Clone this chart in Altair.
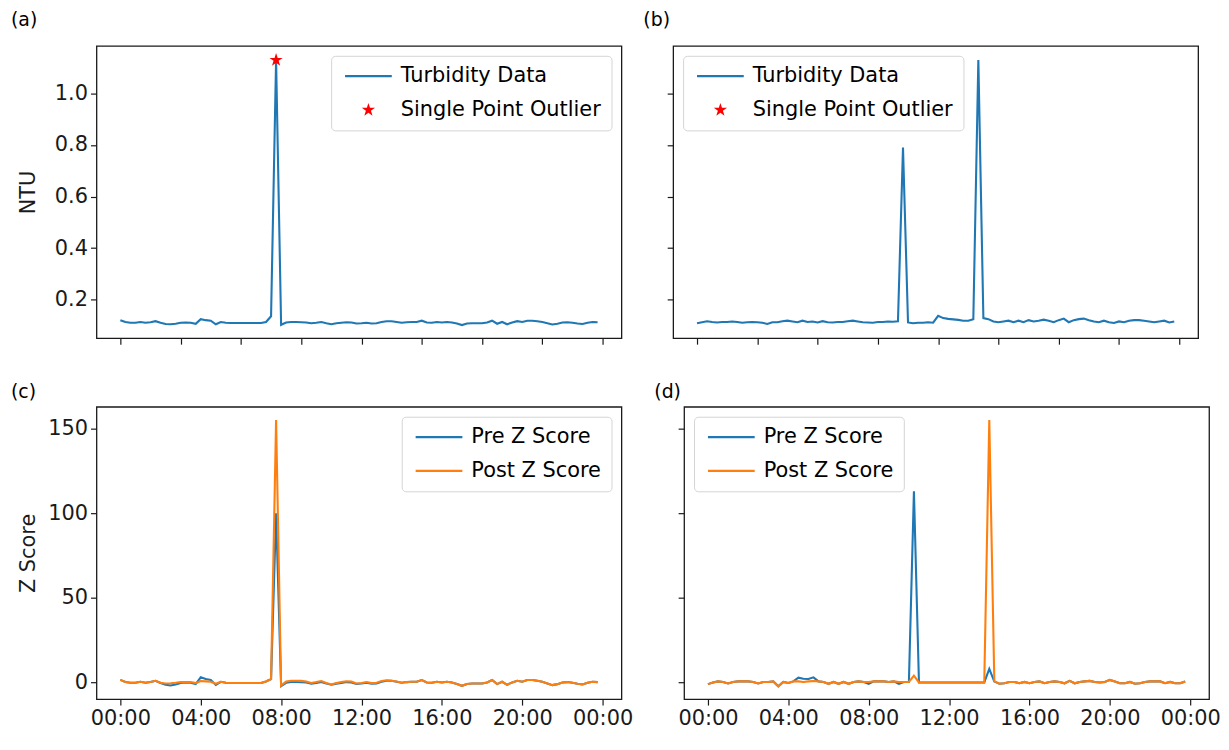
import math
import altair as alt
import pandas as pd

FONT = "DejaVu Sans"
BLUE = "#1f77b4"
ORANGE = "#ff7f0e"
RED = "#ff0000"

# ---------------- data ----------------
STEP_HOURS = 0.25          # 15-minute samples
N_SAMPLES = 96
HOURS = [i * STEP_HOURS for i in range(N_SAMPLES)]

A_NTU = [0.120, 0.113, 0.110, 0.110, 0.113, 0.110, 0.112, 0.116,
         0.110, 0.105, 0.104, 0.106, 0.110, 0.111, 0.110, 0.106,
         0.124, 0.120, 0.118, 0.104, 0.113, 0.110, 0.109, 0.109,
         0.109, 0.109, 0.109, 0.109, 0.109, 0.113, 0.135, 1.130,
         0.102, 0.111, 0.113, 0.113, 0.112, 0.111, 0.108, 0.110,
         0.113, 0.108, 0.104, 0.108, 0.110, 0.112, 0.111, 0.107,
         0.108, 0.110, 0.107, 0.108, 0.113, 0.116, 0.116, 0.113,
         0.110, 0.112, 0.113, 0.113, 0.118, 0.111, 0.110, 0.113,
         0.111, 0.113, 0.111, 0.107, 0.101, 0.107, 0.108, 0.108,
         0.108, 0.111, 0.118, 0.106, 0.113, 0.104, 0.111, 0.116,
         0.113, 0.118, 0.118, 0.116, 0.113, 0.108, 0.103, 0.106,
         0.111, 0.112, 0.110, 0.107, 0.105, 0.110, 0.113, 0.112]

B_NTU = [0.108, 0.112, 0.116, 0.113, 0.111, 0.113, 0.113, 0.115,
         0.113, 0.110, 0.112, 0.113, 0.112, 0.110, 0.105, 0.112,
         0.112, 0.116, 0.118, 0.115, 0.112, 0.118, 0.113, 0.115,
         0.111, 0.116, 0.112, 0.111, 0.113, 0.113, 0.116, 0.118,
         0.115, 0.112, 0.111, 0.110, 0.113, 0.113, 0.115, 0.114,
         0.116, 0.790, 0.111, 0.108, 0.110, 0.110, 0.112, 0.110,
         0.137, 0.128, 0.125, 0.123, 0.121, 0.118, 0.118, 0.124,
         1.130, 0.128, 0.124, 0.115, 0.112, 0.115, 0.118, 0.112,
         0.118, 0.112, 0.120, 0.115, 0.118, 0.122, 0.118, 0.112,
         0.120, 0.126, 0.112, 0.120, 0.124, 0.126, 0.120, 0.115,
         0.112, 0.118, 0.112, 0.109, 0.115, 0.112, 0.118, 0.120,
         0.120, 0.118, 0.115, 0.112, 0.115, 0.118, 0.111, 0.115]

A_OUTLIER_HOUR = [7.75]
A_OUTLIER_NTU = [1.130]

C_PRE = [1.5, 0.3, -0.2, -0.2, 0.4, -0.2, 0.2, 1.0,
         -0.3, -1.4, -1.8, -1.2, -0.3, 0.0, -0.2, -1.0,
         3.0, 2.0, 1.5, -1.5, 0.4, -0.2, -0.3, -0.3,
         -0.3, -0.3, -0.3, -0.3, -0.3, 0.6, 2.0, 100.0,
         -2.2, -0.2, 0.3, 0.3, 0.2, 0.0, -0.7, -0.3,
         0.3, -0.7, -1.4, -0.7, -0.3, 0.2, 0.0, -0.9,
         -0.6, -0.2, -0.8, -0.6, 0.4, 1.0, 1.0, 0.4,
         -0.2, 0.2, 0.4, 0.4, 1.4, 0.0, -0.2, 0.4,
         0.0, 0.4, 0.0, -0.9, -2.0, -0.9, -0.6, -0.6,
         -0.6, 0.0, 1.4, -1.0, 0.4, -1.4, 0.0, 1.0,
         0.4, 1.4, 1.4, 1.0, 0.4, -0.6, -1.6, -1.0,
         0.0, 0.2, -0.2, -0.8, -1.2, -0.2, 0.4, 0.2]

C_POST = [1.5, 0.3, -0.2, -0.2, 0.4, -0.2, 0.2, 1.0,
          -0.2, -0.6, -0.5, -0.2, 0.2, 0.3, 0.2, -0.4,
          0.8, 0.6, 0.4, -0.8, 0.4, -0.2, -0.3, -0.3,
          -0.3, -0.3, -0.3, -0.3, -0.3, 0.6, 2.0, 155.0,
          -1.8, 0.5, 1.0, 1.0, 0.9, 0.6, -0.3, 0.2,
          0.8, -0.3, -1.2, -0.4, 0.2, 0.7, 0.5, -0.6,
          -0.3, 0.2, -0.4, -0.2, 0.8, 1.3, 1.0, 0.5,
          -0.2, 0.2, 0.4, 0.4, 1.4, 0.0, -0.2, 0.4,
          0.0, 0.4, 0.0, -0.9, -2.0, -0.9, -0.6, -0.6,
          -0.6, 0.0, 1.4, -1.0, 0.4, -1.4, 0.0, 1.0,
          0.4, 1.4, 1.4, 1.0, 0.4, -0.6, -1.6, -1.0,
          0.0, 0.2, -0.2, -0.8, -1.2, -0.2, 0.4, 0.2]

D_PRE = [-1.0, 0.0, 0.6, 0.3, -0.6, 0.3, 0.6, 0.6,
         0.6, 0.3, -0.6, 0.3, 0.3, 0.6, -2.3, 0.3,
         -0.3, 0.6, 2.8, 2.2, 2.0, 3.0, 0.6, 0.3,
         -0.8, 0.3, -0.8, 0.3, -0.8, 0.3, 0.6, 0.3,
         -0.8, 0.6, 0.6, 0.6, 0.3, 0.6, -0.8, 0.3,
         0.3, 113.0, 0.0, 0.0, 0.0, 0.0, 0.0, 0.0,
         0.0, 0.0, 0.0, 0.0, 0.0, 0.0, 0.0, 0.0,
         8.0, 0.5, -0.8, -0.5, 0.3, 0.3, -0.5, 0.3,
         -0.5, 0.3, 0.6, -0.5, 0.3, 0.6, 0.3, -0.5,
         0.9, -0.5, 0.3, 0.6, 0.9, 0.3, 0.0, 0.3,
         1.5, 0.6, -0.5, -0.5, 0.3, -0.8, -0.5, 0.3,
         0.6, 0.6, 0.6, -0.5, 0.3, -0.5, -0.5, 0.6]

D_POST = [-1.0, 0.0, 0.6, 0.3, -0.6, 0.3, 0.6, 0.6,
          0.6, 0.3, -0.6, 0.3, 0.3, 0.6, -2.3, 0.3,
          -0.3, 0.6, 0.6, 0.3, 0.6, 0.8, 0.6, 0.3,
          -0.8, 0.3, -0.8, 0.3, -0.8, 0.3, 0.6, 0.3,
          0.3, 0.6, 0.6, 0.6, 0.3, 0.6, 0.3, 0.3,
          0.3, 4.0, 0.0, 0.0, 0.0, 0.0, 0.0, 0.0,
          0.0, 0.0, 0.0, 0.0, 0.0, 0.0, 0.0, 0.0,
          155.0, 0.8, -0.8, -0.5, 0.3, 0.3, -0.5, 0.3,
          -0.5, 0.3, 0.6, -0.5, 0.3, 0.6, 0.3, -0.5,
          0.9, -0.5, 0.3, 0.6, 0.9, 0.3, 0.0, 0.3,
          1.5, 0.6, -0.5, -0.5, 0.3, -0.8, -0.5, 0.3,
          0.6, 0.6, 0.6, -0.5, 0.3, -0.5, -0.5, 0.6]

NTU_SERIES = ["Turbidity Data", "Single Point Outlier"]
Z_SERIES = ["Pre Z Score", "Post Z Score"]
PANEL_LABELS = ["(a)", "(b)", "(c)", "(d)"]
NTU_TICKS = [0.2, 0.4, 0.6, 0.8, 1.0]
Z_TICKS = [0, 50, 100, 150]
TOP_X_TICKS = [0, 3, 6, 9, 12, 15, 18, 21, 24]
BOTTOM_X_TICKS = [0, 4, 8, 12, 16, 20, 24]

# ---------------- style ----------------
W, H = 528, 294
FS = 21


def star_path(r, inner=0.382):
    pts = []
    for k in range(10):
        ang = math.radians(-90 + 36 * k)
        rr = r if k % 2 == 0 else r * inner
        pts.append(f"{rr * math.cos(ang):.3f},{rr * math.sin(ang):.3f}")
    return "M" + "L".join(pts) + "Z"


STAR = star_path(1.4)
LINE_LEG = "M-4.7,0L4.7,0"

x_scale = alt.Scale(domain=[-1.1875, 24.9375], nice=False, zero=False)
ntu_scale = alt.Scale(domain=[0.05, 1.185], nice=False, zero=False)
z_scale = alt.Scale(domain=[-9.85, 162.85], nice=False, zero=False)

LABEL_EXPR = "(datum.value % 24 < 10 ? '0' : '') + (datum.value % 24) + ':00'"


def x_axis(bottom):
    if bottom:
        return alt.Axis(values=BOTTOM_X_TICKS, labelExpr=LABEL_EXPR, title=None)
    return alt.Axis(values=TOP_X_TICKS, labels=False, title=None)


def y_axis(left, ticks, fmt, title):
    if left:
        return alt.Axis(values=ticks, format=fmt, title=title, titleX=-68,
                        titleY=H / 2, titleAngle=270, titleBaseline="middle",
                        titleAlign="center")
    return alt.Axis(values=ticks, labels=False, title=None)


def legend(orient):
    return alt.Legend(title=None, orient=orient, offset=10, padding=10,
                      cornerRadius=4, strokeColor="#d4d4d4",
                      fillColor="rgba(255,255,255,0.85)",
                      labelFont=FONT, labelFontSize=FS, labelColor="#000000",
                      labelLimit=500, symbolSize=100, symbolType=LINE_LEG,
                      symbolOffset=17, labelOffset=22, rowPadding=12,
                      symbolStrokeWidth=2.2, symbolOpacity=1)


def panel_label(text, left, y):
    return alt.Chart(pd.DataFrame({"t": [text]})).mark_text(
        align="left", baseline="middle", font=FONT, fontSize=19, color="#000000"
    ).encode(x=alt.value(-86 if left else -30), y=alt.value(y), text="t:N")


def ntu_panel(values, left, orient, label, out_hours, out_values):
    df = pd.DataFrame({"hour": HOURS, "value": values, "series": NTU_SERIES[0]})
    odf = pd.DataFrame({"hour": out_hours, "value": out_values,
                        "series": [NTU_SERIES[1]] * len(out_hours)})
    leg = legend(orient)
    stroke_scale = alt.Scale(domain=NTU_SERIES, range=[BLUE, "transparent"])
    fill_scale = alt.Scale(domain=NTU_SERIES, range=["transparent", RED])
    shape_scale = alt.Scale(domain=NTU_SERIES, range=[LINE_LEG, STAR])
    line = alt.Chart(df).mark_line(strokeWidth=2.1).encode(
        x=alt.X("hour:Q", scale=x_scale, axis=x_axis(False)),
        y=alt.Y("value:Q", scale=ntu_scale, axis=y_axis(left, NTU_TICKS, ".1f", "NTU")),
        stroke=alt.Stroke("series:N", scale=stroke_scale, legend=leg),
    )
    pts = alt.Chart(odf).mark_point(size=100, opacity=1, strokeWidth=2.2).encode(
        x=alt.X("hour:Q", scale=x_scale),
        y=alt.Y("value:Q", scale=ntu_scale),
        stroke=alt.Stroke("series:N", scale=stroke_scale, legend=leg),
        fill=alt.Fill("series:N", scale=fill_scale, legend=leg),
        shape=alt.Shape("series:N", scale=shape_scale, legend=leg),
    )
    lab = panel_label(label, left, -26)
    return alt.layer(line, pts, lab).properties(width=W, height=H)


def z_panel(pre, post, left, orient, label):
    df = pd.DataFrame({
        "hour": HOURS + HOURS,
        "value": pre + post,
        "series": [Z_SERIES[0]] * len(pre) + [Z_SERIES[1]] * len(post),
    })
    line = alt.Chart(df).mark_line(strokeWidth=2.1).encode(
        x=alt.X("hour:Q", scale=x_scale, axis=x_axis(True)),
        y=alt.Y("value:Q", scale=z_scale, axis=y_axis(left, Z_TICKS, "d", "Z Score")),
        color=alt.Color("series:N",
                        scale=alt.Scale(domain=Z_SERIES, range=[BLUE, ORANGE]),
                        legend=legend(orient)),
    )
    lab = panel_label(label, left, -15)
    return alt.layer(line, lab).properties(width=W, height=H)


pa = ntu_panel(A_NTU, True, "top-right", PANEL_LABELS[0], A_OUTLIER_HOUR, A_OUTLIER_NTU)
pb = ntu_panel(B_NTU, False, "top-left", PANEL_LABELS[1], [], [])
pc = z_panel(C_PRE, C_POST, True, "top-right", PANEL_LABELS[2])
pd_ = z_panel(D_PRE, D_POST, False, "top-left", PANEL_LABELS[3])

IND = dict(color="independent", stroke="independent", fill="independent",
           shape="independent", x="independent", y="independent")
LIND = dict(color="independent", stroke="independent", fill="independent",
            shape="independent")

top = alt.hconcat(pa, pb, spacing=20).resolve_scale(**IND).resolve_legend(**LIND)
bottom = alt.hconcat(pc, pd_, spacing=20).resolve_scale(**IND).resolve_legend(**LIND)

chart = alt.vconcat(top, bottom, spacing=36).resolve_scale(**IND).resolve_legend(
    **LIND
).properties(
    padding={"left": 2, "top": 0, "right": 0, "bottom": 0},
    background="white",
).configure_view(
    stroke="#1a1a1a", strokeWidth=1.3
).configure_axis(
    grid=False, domain=False, tickColor="#1a1a1a", tickWidth=1.2, tickSize=6,
    labelPadding=3, labelFont=FONT, labelFontSize=FS, labelColor="#1a1a1a",
    titleFont=FONT, titleFontSize=FS, titleFontWeight="normal", titleColor="#1a1a1a",
    labelFlush=False, labelOverlap=False
)

chart.save("out.html", embed_options={"renderer": "svg", "actions": False})
